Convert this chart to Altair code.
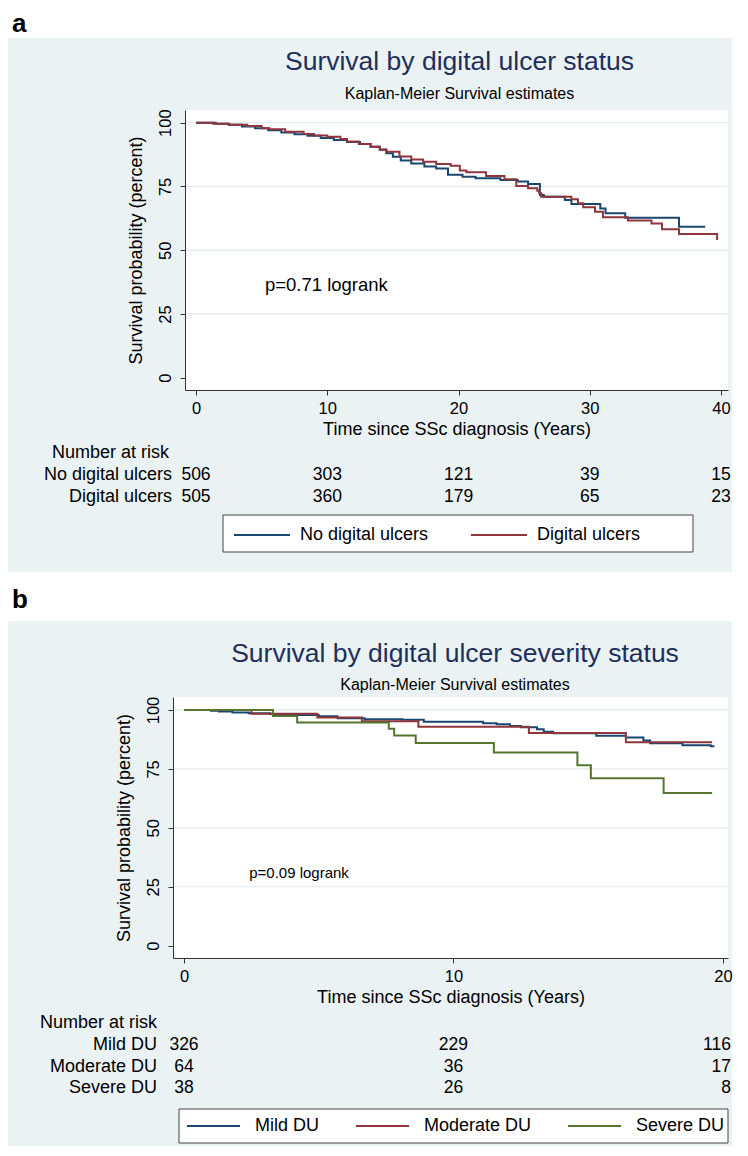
import altair as alt
import pandas as pd

FONT = "Liberation Sans"
BG = "#eaf2f3"
GRID = "#e1eaed"
AXIS = "#333333"
TITLE_COLOR = "#1f2f5c"
TXT = 18

# ---------------- shared text ----------------
SUBTITLE = "Kaplan-Meier Survival estimates"
X_TITLE = "Time since SSc diagnosis (Years)"
Y_TITLE = "Survival probability (percent)"
RISK_HEAD = "Number at risk"
Y_TICKS = [0, 25, 50, 75, 100]
GRID_VALUES = [25, 50, 75, 100]

# ---------------- panel a data ----------------
A_LETTER = "a"
A_TITLE = "Survival by digital ulcer status"
A_GROUPS = ["No digital ulcers", "Digital ulcers"]
A_COLORS = ["#1a476f", "#90353b"]
A_NO_T = [0, 1.5, 2.5, 3.5, 4.5, 5.5, 6.5, 7.5, 8.5, 9.5, 10.5, 11.5, 12.5, 13.3, 14.0,
          14.5, 15.0, 15.6, 16.4, 17.4, 18.3, 19.2, 20.3, 21.3, 23.2, 24.5, 25.3, 26.2,
          26.5, 28.1, 28.6, 30.8, 31.2, 32.7, 36.8, 38.8]
A_NO_V = [100, 99.6, 99.2, 98.5, 97.8, 97.0, 96.2, 95.5, 94.9, 94.0, 93.2, 92.4, 91.6, 90.6, 89.4,
          88.0, 86.6, 85.2, 84.0, 82.8, 82.0, 79.6, 78.8, 78.2, 77.5, 76.9, 76.0, 71.6,
          71.0, 69.7, 68.1, 66.4, 64.5, 62.7, 59.2, 59.2]
A_DU_T = [0, 1.3, 2.5, 3.9, 5.0, 5.6, 6.8, 8.2, 9.0, 10.0, 11.0, 11.5, 12.4, 13.3, 14.0, 14.5,
          15.5, 16.4, 17.3, 18.3, 19.4, 20.1, 20.6, 22.1, 23.5, 24.4, 25.3, 26.0, 26.15, 26.3,
          28.6, 29.1, 29.5, 30.4, 31.0, 32.9, 34.7, 35.5, 36.8, 39.7]
A_DU_V = [100, 99.6, 99.2, 98.7, 97.8, 97.4, 96.5, 95.6, 95.0, 94.5, 93.6, 92.6, 91.6, 90.6, 89.5, 88.6,
          86.7, 85.6, 84.7, 83.8, 83.1, 81.3, 80.6, 79.1, 77.8, 75.2, 74.3, 73.3, 72.3, 71.0,
          70.0, 68.4, 66.8, 65.1, 62.9, 61.6, 60.5, 58.2, 56.4, 54.0]
A_X_TICKS = [0, 10, 20, 30, 40]
A_RISK_LABELS = ["No digital ulcers", "Digital ulcers"]
A_RISK = [[506, 303, 121, 39, 15], [505, 360, 179, 65, 23]]
A_P_TEXT = "p=0.71 logrank"
A_P_AT = [5.25, 36.2]

# ---------------- panel b data ----------------
B_LETTER = "b"
B_TITLE = "Survival by digital ulcer severity status"
B_GROUPS = ["Mild DU", "Moderate DU", "Severe DU"]
B_COLORS = ["#1a476f", "#90353b", "#55752f"]
B_MILD_T = [0, 1.0, 1.3, 1.8, 2.4, 3.2, 4.1, 5.0, 5.7, 6.7, 8.1, 8.9, 11.1, 11.6, 12.1, 12.5,
            13.1, 13.35, 13.7, 15.3, 16.4, 17.05, 17.3, 18.5, 19.55, 19.65]
B_MILD_V = [100, 99.7, 99.3, 98.9, 98.6, 98.3, 97.9, 97.3, 96.5, 96.1, 95.8, 95.0, 94.4, 93.9, 93.2, 92.7,
            91.8, 90.8, 90.1, 89.1, 88.3, 87.0, 85.9, 85.0, 84.6, 84.2]
B_MOD_T = [0, 2.5, 4.95, 6.6, 8.7, 12.8, 16.4, 19.6]
B_MOD_V = [100, 98.4, 96.8, 95.2, 92.9, 90.2, 86.3, 86.3]
B_SEV_T = [0, 3.3, 4.2, 7.6, 7.8, 8.6, 11.5, 14.6, 15.1, 17.8, 19.6]
B_SEV_V = [100, 97.4, 94.7, 92.0, 89.2, 86.0, 82.0, 76.5, 71.0, 64.8, 64.8]
B_X_TICKS = [0, 10, 20]
B_RISK_LABELS = ["Mild DU", "Moderate DU", "Severe DU"]
B_RISK = [[326, 229, 116], [64, 36, 17], [38, 26, 8]]
B_P_TEXT = "p=0.09 logrank"
B_P_AT = [2.42, 30.8]


def one():
    return pd.DataFrame({"k": [0]})


def rect(x0, x1, y0, y1, **kw):
    return alt.Chart(one()).mark_rect(**kw).encode(
        x=alt.value(x0), x2=alt.value(x1), y=alt.value(y0), y2=alt.value(y1))


def label(txt, x, y, **kw):
    kw.setdefault("font", FONT)
    kw.setdefault("color", "black")
    return alt.Chart(one()).mark_text(text=txt, **kw).encode(x=alt.value(x), y=alt.value(y))


def panel(L):
    W, H = L["W"], L["H"]
    xaxis = alt.Axis(values=L["xticks"], title=X_TITLE, titleFont=FONT, titleFontSize=TXT,
                     titleFontWeight="normal", titleColor="black", titlePadding=4,
                     labelFont=FONT, labelFontSize=16.5, labelColor="black", labelPadding=5,
                     labelFlush=False, labelOverlap=False, tickSize=5, tickColor=AXIS,
                     domainColor=AXIS, grid=False, zindex=1)
    yaxis = alt.Axis(values=Y_TICKS, title=Y_TITLE, titleFont=FONT, titleFontSize=TXT,
                     titleFontWeight="normal", titleColor="black", titlePadding=12,
                     labelFont=FONT, labelFontSize=16.5, labelColor="black", labelPadding=10,
                     labelAngle=270, labelAlign="center", labelBaseline="alphabetic",
                     labelFlush=False, labelOverlap=False, tickSize=5, tickColor=AXIS,
                     domainColor=AXIS, grid=False, zindex=1, offset=L["yOff"])
    xenc = alt.X("t:Q", scale=alt.Scale(domain=L["xdom"], range=[L["px0"], W], nice=False,
                                        zero=False), axis=xaxis)
    yenc = alt.Y("v:Q", scale=alt.Scale(domain=L["ydom"], nice=False, zero=False), axis=yaxis)

    curves = pd.concat([pd.DataFrame({"t": t, "v": v, "group": g}) for g, t, v in L["curves"]],
                       ignore_index=True)
    legend = alt.Legend(orient="none", legendX=L["legX"], legendY=L["legY"], direction="horizontal",
                        title=None, symbolType="stroke", symbolSize=L["symSize"],
                        symbolStrokeWidth=2, labelFont=FONT, labelFontSize=TXT,
                        labelColor="black", labelOffset=L["labOff"], columnPadding=L["colPad"],
                        padding=0, labelLimit=0, clipHeight=20, zindex=1)

    layers = [
        rect(L["gx0"], L["gx1"], L["ftop"], L["gy0"], color="white"),
        rect(L["gx0"], L["gx1"], L["gy0"], L["gy1"], color=BG),
        rect(L["px0"], W, 0, H, color="white"),
        alt.Chart(pd.DataFrame({"v": GRID_VALUES})).mark_rule(color=GRID, strokeWidth=1.2).encode(
            y=yenc, x=alt.value(L["px0"]), x2=alt.value(W)),
        alt.Chart(curves).mark_line(interpolate="step-after", strokeWidth=2).encode(
            x=xenc, y=yenc,
            color=alt.Color("group:N", scale=alt.Scale(domain=L["groups"], range=L["colors"]),
                            legend=legend)),
        rect(L["bx0"], L["bx1"], L["by0"], L["by1"], fill="white", stroke="#444444", strokeWidth=1),
        alt.Chart(pd.DataFrame({"t": [L["p_at"][0]], "v": [L["p_at"][1]], "label": [L["p_text"]]}))
        .mark_text(align="left", baseline="middle", font=FONT, fontSize=L["pSize"], color="black")
        .encode(x=xenc, y=yenc, text="label:N"),
        label(L["letter"], L["letX"], L["letY"], align="left", baseline="alphabetic",
              fontSize=26, fontWeight="bold"),
        label(L["title"], L["titleX"], L["titleY"], align="center", baseline="alphabetic",
              fontSize=26.5, color=TITLE_COLOR),
        label(SUBTITLE, L["titleX"], L["subY"], align="center", baseline="alphabetic", fontSize=16),
        label(RISK_HEAD, L["headX"], L["headY"], align="right", baseline="middle", fontSize=TXT),
    ]
    nlast = L["lastRightDx"]
    for name, counts, ry in zip(L["risk_labels"], L["risk"], L["rowY"]):
        layers.append(label(name, L["rowX"], ry, align="right", baseline="middle", fontSize=TXT))
        df = pd.DataFrame({"t": L["xticks"], "n": counts})
        body = df if nlast is None else df.iloc[:-1]
        layers.append(
            alt.Chart(body)
            .mark_text(align="center", baseline="middle", font=FONT, fontSize=17.5, color="black")
            .encode(x=xenc, y=alt.value(ry), text="n:Q"))
        if nlast is not None:
            layers.append(
                alt.Chart(df.iloc[-1:])
                .mark_text(align="right", dx=nlast, baseline="middle", font=FONT, fontSize=17.5,
                           color="black")
                .encode(x=xenc, y=alt.value(ry), text="n:Q"))
    return alt.layer(*layers).properties(width=W, height=H)


A = dict(
    W=543, H=280, px0=0, yOff=0, xdom=[-0.838, 40.53], ydom=[-4.82, 104.98], xticks=A_X_TICKS,
    gx0=-177, gx1=547, gy0=-72, gy1=462, ftop=-102,
    letter=A_LETTER, letX=-173, letY=-78,
    title=A_TITLE, titleX=274.5, titleY=-40, subY=-11,
    headX=-16, headY=343, rowX=-13, rowY=[365, 387],
    risk_labels=A_RISK_LABELS, risk=A_RISK, lastRightDx=None,
    groups=A_GROUPS, colors=A_COLORS,
    curves=[(A_GROUPS[0], A_NO_T, A_NO_V), (A_GROUPS[1], A_DU_T, A_DU_V)],
    bx0=38, bx1=508, by0=405, by1=442,
    legX=48, legY=415, symSize=56 * 56, labOff=9, colPad=41,
    p_text=A_P_TEXT, p_at=A_P_AT, pSize=18.5,
)

B = dict(
    W=543, H=261, px0=-12, yOff=12, xdom=[-0.408, 20.19], ydom=[-5.22, 105.5], xticks=B_X_TICKS,
    gx0=-177, gx1=547, gy0=-76, gy1=449, ftop=-125,
    letter=B_LETTER, letX=-173, letY=-89,
    title=B_TITLE, titleX=270, titleY=-35, subY=-7,
    headX=-28, headY=326, rowX=-28, rowY=[348, 370, 391],
    risk_labels=B_RISK_LABELS, risk=B_RISK, lastRightDx=8,
    groups=B_GROUPS, colors=B_COLORS,
    curves=[(B_GROUPS[0], B_MILD_T, B_MILD_V), (B_GROUPS[1], B_MOD_T, B_MOD_V),
            (B_GROUPS[2], B_SEV_T, B_SEV_V)],
    bx0=-6, bx1=543, by0=412, by1=446,
    legX=1, legY=419, symSize=53 * 53, labOff=14, colPad=35,
    p_text=B_P_TEXT, p_at=B_P_AT, pSize=15,
)

chart = (
    alt.vconcat(panel(A), panel(B), spacing=0)
    .resolve_scale(x="independent", y="independent", color="independent")
    .properties(padding=0, background="white")
    .configure_view(strokeWidth=0)
)

chart.save("out.html", embed_options={"renderer": "svg", "actions": False})
